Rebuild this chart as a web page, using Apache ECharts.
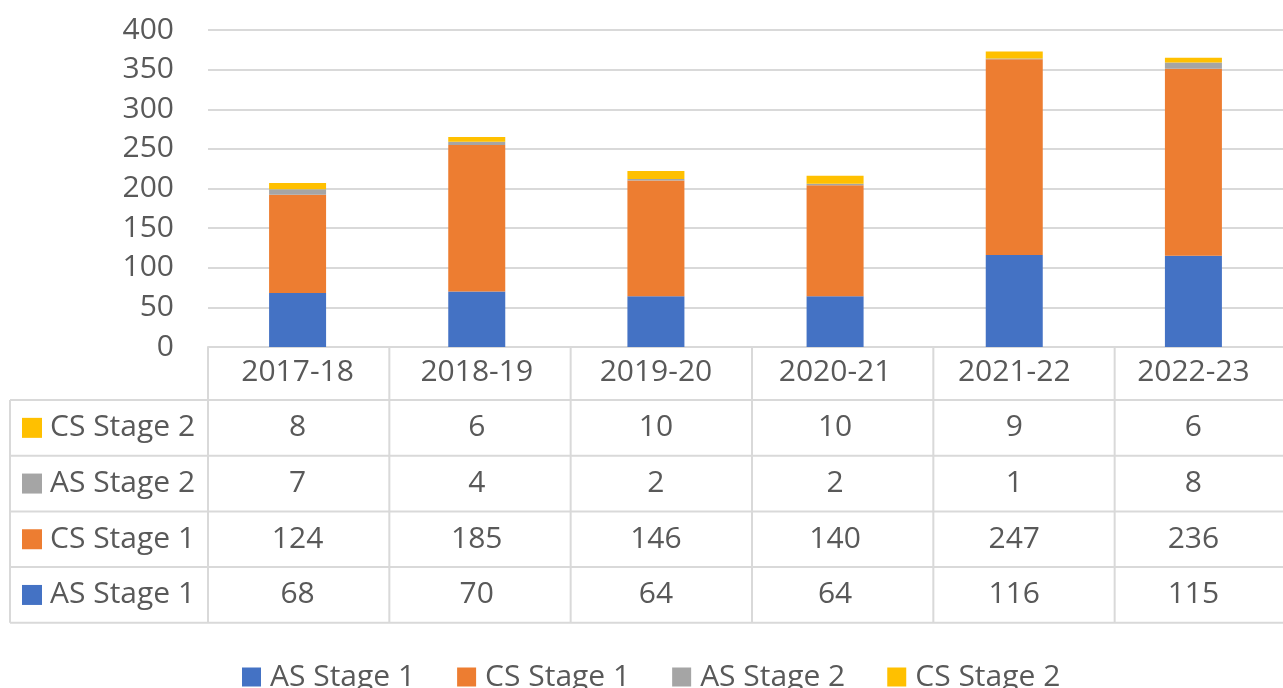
<!DOCTYPE html>
<html><head><meta charset="utf-8">
<script src="https://cdn.jsdelivr.net/npm/echarts@6/dist/echarts.min.js"></script>
<style>html,body{margin:0;padding:0;background:#fff}#c{width:1283px;height:688px}</style>
</head><body><div id="c"></div>
<script>
const categories = ['2017-18','2018-19','2019-20','2020-21','2021-22','2022-23'];
const asStage1 = [68,70,64,64,116,115];
const csStage1 = [124,185,146,140,247,236];
const asStage2 = [7,4,2,2,1,8];
const csStage2 = [8,6,10,10,9,6];
const seriesNames = ['AS Stage 1','CS Stage 1','AS Stage 2','CS Stage 2'];
const colors = ['#4472C4','#ED7D31','#A5A5A5','#FFC000'];
const seriesData = [asStage1, csStage1, asStage2, csStage2];

const FONT = 'Open Sans';
const FS = 30;
const TXT = '#595959';
const LINE = '#d9d9d9';

const GRID = {left:208, top:30, width:1088, height:317};

const chart = echarts.init(document.getElementById('c'), null, {renderer:'canvas'});
chart.setOption({
  animation:false,
  color: colors,
  grid: {left:GRID.left, top:GRID.top, width:GRID.width, height:GRID.height, containLabel:false},
  legend: {
    left: 237, top: 657, itemWidth:19, itemHeight:19, itemGap:42, icon:'rect',
    textStyle:{fontFamily:FONT, fontSize:FS, color:TXT, padding:[0,0,0,4]},
    data: seriesNames
  },
  xAxis: {
    type:'category', data:categories,
    axisLine:{show:true, lineStyle:{color:LINE, width:2}},
    axisTick:{show:false},
    axisLabel:{fontFamily:FONT, fontSize:FS, color:TXT, margin:10, lineHeight:30, interval:0}
  },
  yAxis: {
    type:'value', min:0, max:400, interval:50,
    axisLine:{show:false}, axisTick:{show:false},
    axisLabel:{fontFamily:FONT, fontSize:FS, color:TXT, margin:34},
    splitLine:{lineStyle:{color:LINE, width:2}}
  },
  series: seriesNames.map((n,i)=>({
    name:n, type:'bar', stack:'total', barWidth:57, data:seriesData[i],
    itemStyle:{color:colors[i]}
  }))
});

// data table below the axis
const rowOrder = [3,2,1,0]; // top to bottom
const band = GRID.width / categories.length;
const yHeaderTop = GRID.top + GRID.height;
const rowTop = 400, rowH = 55.7, tableLeft = 10;
const tableBottom = rowTop + rowH * rowOrder.length;
const g = [];
const ln = (x1,y1,x2,y2)=>({type:'line', shape:{x1,y1,x2,y2}, style:{stroke:LINE, lineWidth:2}, silent:true});
g.push(ln(GRID.left, yHeaderTop, 1283, yHeaderTop));
for (let r=0; r<=rowOrder.length; r++) {
  g.push(ln(tableLeft, rowTop + r*rowH, 1283, rowTop + r*rowH));
}
g.push(ln(tableLeft, rowTop, tableLeft, tableBottom));
for (let c=0; c<=categories.length; c++) {
  const x = GRID.left + c*band;
  g.push(ln(x, yHeaderTop, x, tableBottom));
}
rowOrder.forEach((si, r)=>{
  const cy = rowTop + r*rowH + rowH/2;
  g.push({type:'rect', shape:{x:22, y:cy-10, width:20, height:20}, style:{fill:colors[si]}, silent:true});
  g.push({type:'text', x:50, y:cy, style:{text:seriesNames[si], font:FS+'px "'+FONT+'"', fill:TXT, verticalAlign:'middle', align:'left'}, silent:true});
  categories.forEach((cat, ci)=>{
    const cx = chart.convertToPixel({xAxisIndex:0}, cat);
    g.push({type:'text', x:cx, y:cy, style:{text:String(seriesData[si][ci]), font:FS+'px "'+FONT+'"', fill:TXT, verticalAlign:'middle', align:'center'}, silent:true});
  });
});
chart.setOption({graphic:{elements:g}});
</script>
</body></html>
